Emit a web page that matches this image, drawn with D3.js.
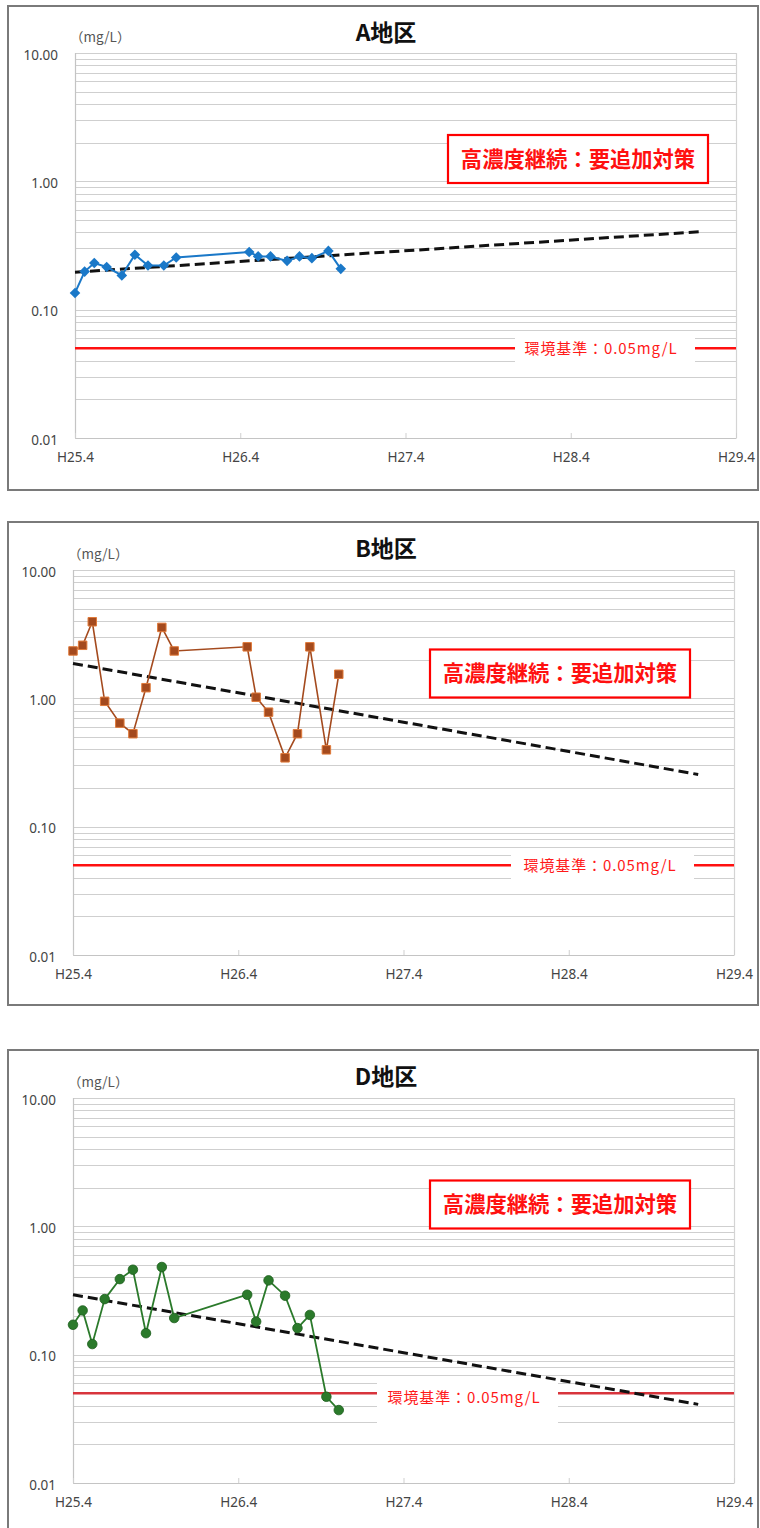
<!DOCTYPE html>
<html>
<head>
<meta charset="utf-8">
<script src="https://cdn.jsdelivr.net/npm/d3@7"></script>
<style>
  body { margin: 0; background: #fff; }
  svg { display: block; }
</style>
</head>
<body>
<svg id="chart" width="760" height="1528"></svg>
<script>
// Sampling times, in months counted from H25.4
const sampleMonths = [0, 0.7, 1.4, 2.3, 3.4, 4.35, 5.3, 6.45, 7.35, 12.65, 13.3, 14.2, 15.4, 16.3, 17.2, 18.4, 19.3];

// Measured concentrations (mg/L)
const valuesA = [0.135, 0.198, 0.231, 0.215, 0.185, 0.268, 0.221, 0.221, 0.255, 0.281, 0.26, 0.26, 0.24, 0.26, 0.252, 0.287, 0.208];
const valuesB = [2.34, 2.59, 3.95, 0.948, 0.641, 0.53, 1.21, 3.57, 2.34, 2.52, 1.02, 0.78, 0.344, 0.53, 2.52, 0.397, 1.54];
const valuesD = [0.171, 0.221, 0.121, 0.271, 0.388, 0.459, 0.147, 0.482, 0.193, 0.293, 0.181, 0.379, 0.288, 0.161, 0.204, 0.047, 0.037];

// Exponential trend lines: start / end values over trendMonths
const trendMonths = [0, 45.4];
const trendA = [0.196, 0.405];
const trendB = [1.87, 0.255];
const trendD = [0.293, 0.041];

const districtNames = ["A地区", "B地区", "D地区"];

// Axis ticks
const xTickMonths = [0, 12, 24, 36, 48];
const xTickLabels = ["H25.4", "H26.4", "H27.4", "H28.4", "H29.4"];
const yTickValues = [10, 1, 0.1, 0.01];
const yTickLabels = ["10.00", "1.00", "0.10", "0.01"];

// Environmental standard
const standardValue = 0.05;
const standardLabel = "環境基準：0.05mg/L";
const statusLabel = "高濃度継続：要追加対策";
const unitLabel = "（mg/L）";

// ---- layout and styling of each panel ----
const panels = [
  { name: districtNames[0], values: valuesA, trend: trendA,
    frameY: 6, frameH: 484, left: 75, right: 736, top: 53,
    status: { cx: 578, cy: 159 },
    std: { x0: 515, x1: 695, tx: 601, up: 13, down: 15, ty: 0, color: "#ff1010" },
    marker: "diamond", color: "#1a78c8", lineW: 2 },
  { name: districtNames[1], values: valuesB, trend: trendB,
    frameY: 522, frameH: 483, left: 73, right: 734, top: 570,
    status: { cx: 560, cy: 673.5 },
    std: { x0: 511, x1: 694, tx: 600, up: 13, down: 15, ty: 0, color: "#ff1010" },
    marker: "square", color: "#a44a1e", lineW: 1.6 },
  { name: districtNames[2], values: valuesD, trend: trendD,
    frameY: 1050, frameH: 490, left: 73, right: 734, top: 1098,
    status: { cx: 560, cy: 1204.5 },
    std: { x0: 377, x1: 558, tx: 464, up: 11, down: 37, ty: 4, color: "#d8343c" },
    marker: "circle", color: "#2b7a2b", lineW: 1.8 }
];

const plotH = 385;
const svg = d3.select("#chart");

panels.forEach(p => {
  const g = svg.append("g");
  const bottom = p.top + plotH;

  const x = d3.scaleLinear().domain([0, 48]).range([p.left, p.right]);
  const y = d3.scaleLog().domain([0.01, 10]).range([bottom, p.top]);

  // outer chart frame
  g.append("rect")
    .attr("x", 8).attr("y", p.frameY)
    .attr("width", 750).attr("height", p.frameH)
    .attr("fill", "#fff").attr("stroke", "#7a7a7a").attr("stroke-width", 2);

  // horizontal log gridlines
  g.append("g").selectAll("line")
    .data(y.ticks())
    .join("line")
    .attr("x1", p.left).attr("x2", p.right)
    .attr("y1", d => Math.round(y(d)) + 0.5).attr("y2", d => Math.round(y(d)) + 0.5)
    .attr("stroke", "#cfcfcf").attr("stroke-width", 1.2);

  // plot area side edges
  g.append("line").attr("x1", p.left + 0.5).attr("x2", p.left + 0.5)
    .attr("y1", p.top).attr("y2", bottom).attr("stroke", "#c4c4c4").attr("stroke-width", 1.2);
  g.append("line").attr("x1", p.right + 0.5).attr("x2", p.right + 0.5)
    .attr("y1", p.top).attr("y2", bottom).attr("stroke", "#d4d4d4").attr("stroke-width", 1.2);

  // x axis ticks and labels
  const xAxis = d3.axisBottom(x)
    .tickValues(xTickMonths)
    .tickFormat((d, i) => xTickLabels[i])
    .tickSizeInner(-5).tickSizeOuter(0).tickPadding(14);
  const xg = g.append("g").attr("transform", `translate(0,${bottom})`).call(xAxis);
  xg.select(".domain").attr("stroke", "#c4c4c4");
  xg.selectAll(".tick line").attr("stroke", "#cfcfcf");
  xg.selectAll("text")
    .attr("fill", "#444").attr("font-family", "'Noto Sans', sans-serif").attr("font-size", 13.5);

  // y axis labels
  const yAxis = d3.axisLeft(y)
    .tickValues(yTickValues)
    .tickFormat((d, i) => yTickLabels[i])
    .tickSize(0).tickPadding(17);
  const yg = g.append("g").attr("transform", `translate(${p.left},0)`).call(yAxis);
  yg.select(".domain").remove();
  yg.selectAll("text")
    .attr("fill", "#444").attr("font-family", "'Noto Sans', sans-serif").attr("font-size", 13.5)
    .attr("dy", "0.45em");

  // unit label
  g.append("text")
    .attr("x", p.left - 5).attr("y", p.top - 11)
    .attr("fill", "#555").attr("font-family", "'Noto Sans CJK JP', sans-serif").attr("font-size", 13.5)
    .text(unitLabel);

  // title
  g.append("text")
    .attr("x", 386).attr("y", p.frameY + 35)
    .attr("text-anchor", "middle")
    .attr("fill", "#111").attr("font-family", "'Noto Sans CJK JP', sans-serif")
    .attr("font-size", 23).attr("font-weight", "bold")
    .text(p.name);

  // environmental standard line with its label
  const ys = y(standardValue);
  g.append("line")
    .attr("x1", p.left).attr("x2", p.right)
    .attr("y1", ys).attr("y2", ys)
    .attr("stroke", p.std.color).attr("stroke-width", 2.6);
  g.append("rect")
    .attr("x", p.std.x0).attr("y", ys - p.std.up)
    .attr("width", p.std.x1 - p.std.x0).attr("height", p.std.up + p.std.down)
    .attr("fill", "#fff");
  g.append("text")
    .attr("x", p.std.tx).attr("y", ys + p.std.ty)
    .attr("dy", "0.36em").attr("text-anchor", "middle")
    .attr("fill", "#ff1a1a").attr("font-family", "'Noto Sans CJK JP', sans-serif")
    .attr("font-size", 15).attr("letter-spacing", 0.9)
    .text(standardLabel);

  // status box
  const bw = 260, bh = 48;
  g.append("rect")
    .attr("x", p.status.cx - bw / 2).attr("y", p.status.cy - bh / 2)
    .attr("width", bw).attr("height", bh)
    .attr("fill", "#fff").attr("stroke", "#ff0000").attr("stroke-width", 2.2);
  g.append("text")
    .attr("x", p.status.cx).attr("y", p.status.cy)
    .attr("dy", "0.36em").attr("text-anchor", "middle")
    .attr("fill", "#ff1010").attr("font-family", "'Noto Sans CJK JP', sans-serif")
    .attr("font-size", 21.3).attr("font-weight", "bold")
    .text(statusLabel);

  // trend line
  g.append("line")
    .attr("x1", x(trendMonths[0])).attr("y1", y(p.trend[0]))
    .attr("x2", x(trendMonths[1])).attr("y2", y(p.trend[1]))
    .attr("stroke", "#111").attr("stroke-width", 3)
    .attr("stroke-dasharray", "10,5");

  // measured series
  const pts = sampleMonths.map((m, i) => [m, p.values[i]]);
  g.append("path")
    .datum(pts)
    .attr("fill", "none").attr("stroke", p.color).attr("stroke-width", p.lineW)
    .attr("d", d3.line().x(d => x(d[0])).y(d => y(d[1])));

  const mk = g.append("g").selectAll("path")
    .data(pts)
    .join("path")
    .attr("transform", d => `translate(${x(d[0])},${y(d[1])})` + (p.marker === "diamond" ? " rotate(45)" : ""));
  if (p.marker === "diamond") {
    mk.attr("d", d3.symbol(d3.symbolSquare, 56)()).attr("fill", p.color);
  } else if (p.marker === "square") {
    mk.attr("d", d3.symbol(d3.symbolSquare, 72)()).attr("fill", p.color)
      .attr("stroke", "#e07a3a").attr("stroke-width", 1);
  } else {
    mk.attr("d", d3.symbol(d3.symbolCircle, 72)()).attr("fill", p.color)
      .attr("stroke", "#1d5e1d").attr("stroke-width", 0.8);
  }
});
</script>
</body>
</html>
